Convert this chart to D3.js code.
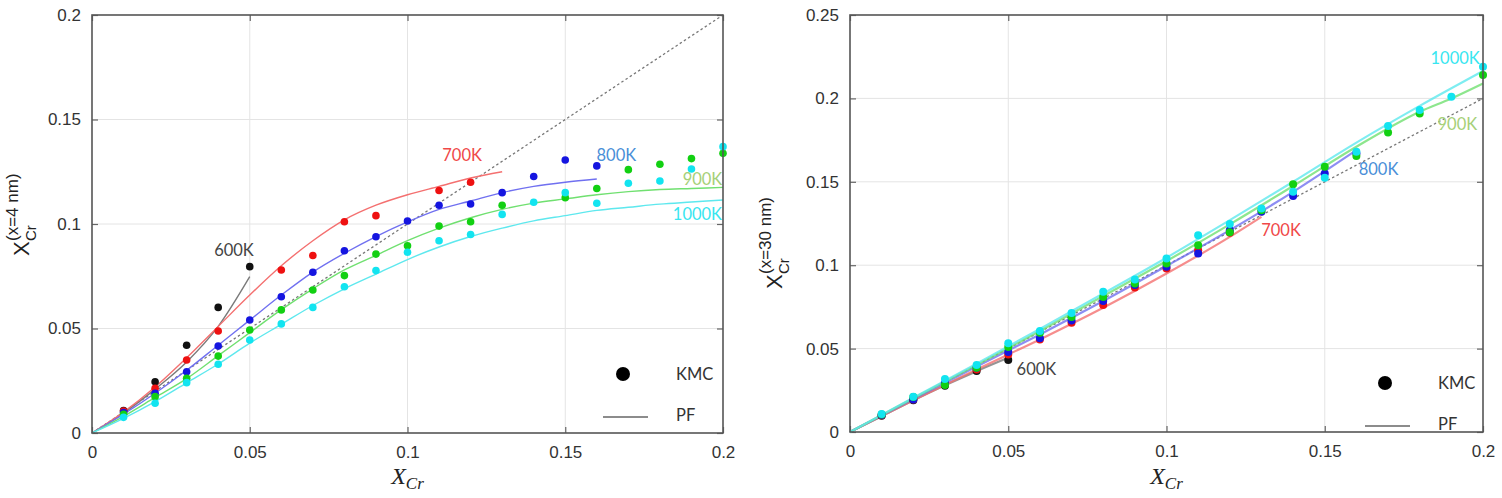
<!DOCTYPE html>
<html><head><meta charset="utf-8">
<script src="https://cdn.jsdelivr.net/npm/d3@7"></script>
<style>body{margin:0;background:#fff;} svg{display:block;}</style>
</head><body>
<svg id="c" width="1502" height="498"></svg>
<script>
// ---------- DATA ----------
const temps = ["600K","700K","800K","900K","1000K"];
const dotColors = ["#111111","#ee1111","#1515e0","#12d012","#12e4f0"];
const lineColors = ["#7a7a7a","#f47070","#7070f0","#70e070","#5ee8ee"];
const labelColors = ["#444444","#f04848","#4a8fd8","#a6d078","#38e6f0"];
const xTicks = [0,0.05,0.1,0.15,0.2];
const yTicksL = [0,0.05,0.1,0.15,0.2];
const yTicksR = [0,0.05,0.1,0.15,0.2,0.25];
const diag = [[0,0],[0.2,0.2]];

// Left panel (x = 4 nm): KMC points
const kmcL600 = [[0.01,0.0107],[0.02,0.0245],[0.03,0.042],[0.04,0.0601],[0.05,0.0796]];
const kmcL700 = [[0.01,0.0105],[0.02,0.0214],[0.03,0.0349],[0.04,0.0488],[0.06,0.078],[0.07,0.0849],[0.08,0.1011],[0.09,0.104],[0.11,0.116],[0.12,0.120]];
const kmcL800 = [[0.01,0.0098],[0.02,0.019],[0.03,0.0293],[0.04,0.0416],[0.05,0.0541],[0.06,0.0652],[0.07,0.0769],[0.08,0.0872],[0.09,0.0939],[0.10,0.1014],[0.11,0.109],[0.12,0.1096],[0.13,0.115],[0.14,0.1227],[0.15,0.1306],[0.16,0.1278]];
const kmcL900 = [[0.01,0.009],[0.02,0.0174],[0.03,0.0262],[0.04,0.0368],[0.05,0.0493],[0.06,0.0589],[0.07,0.0684],[0.08,0.0753],[0.09,0.0856],[0.10,0.0896],[0.11,0.099],[0.12,0.1011],[0.13,0.109],[0.15,0.1126],[0.16,0.117],[0.17,0.126],[0.18,0.1286],[0.19,0.1313],[0.20,0.1338]];
const kmcL1000 = [[0.01,0.0075],[0.02,0.0142],[0.03,0.0241],[0.04,0.0329],[0.05,0.0445],[0.06,0.0522],[0.07,0.0601],[0.08,0.070],[0.09,0.0777],[0.10,0.0865],[0.11,0.092],[0.12,0.095],[0.13,0.1046],[0.14,0.1104],[0.15,0.115],[0.16,0.1099],[0.17,0.1195],[0.18,0.1206],[0.19,0.1263],[0.20,0.137]];
// Left panel: PF curves
const pfL600 = [[0,0],[0.01,0.0095],[0.02,0.021],[0.03,0.034],[0.04,0.051],[0.05,0.0748]];
const pfL700 = [[0,0],[0.01,0.010],[0.02,0.022],[0.03,0.036],[0.04,0.051],[0.05,0.066],[0.06,0.080],[0.07,0.092],[0.08,0.102],[0.09,0.109],[0.10,0.114],[0.11,0.118],[0.12,0.122],[0.13,0.125]];
const pfL800 = [[0,0],[0.01,0.009],[0.02,0.019],[0.03,0.030],[0.04,0.042],[0.05,0.054],[0.06,0.066],[0.07,0.077],[0.08,0.086],[0.09,0.094],[0.10,0.101],[0.11,0.107],[0.12,0.111],[0.13,0.115],[0.14,0.118],[0.15,0.120],[0.16,0.1215]];
const pfL900 = [[0,0],[0.01,0.008],[0.02,0.017],[0.03,0.026],[0.04,0.037],[0.05,0.048],[0.06,0.059],[0.07,0.069],[0.08,0.078],[0.09,0.085],[0.10,0.092],[0.11,0.098],[0.12,0.103],[0.13,0.107],[0.14,0.110],[0.15,0.112],[0.16,0.114],[0.17,0.1155],[0.18,0.1165],[0.19,0.117],[0.20,0.1175]];
const pfL1000 = [[0,0],[0.01,0.007],[0.02,0.015],[0.03,0.024],[0.04,0.033],[0.05,0.043],[0.06,0.052],[0.07,0.061],[0.08,0.069],[0.09,0.076],[0.10,0.083],[0.11,0.089],[0.12,0.094],[0.13,0.098],[0.14,0.1015],[0.15,0.104],[0.16,0.1065],[0.17,0.108],[0.18,0.1095],[0.19,0.1105],[0.20,0.1115]];

// Right panel (x = 30 nm): KMC points
const kmcR600 = [[0.01,0.0098],[0.02,0.019],[0.03,0.0278],[0.04,0.0366],[0.05,0.0432]];
const kmcR700 = [[0.01,0.0100],[0.02,0.0195],[0.03,0.0285],[0.04,0.0375],[0.05,0.0465],[0.06,0.0555],[0.07,0.0655],[0.08,0.0761],[0.09,0.0867],[0.10,0.098],[0.11,0.109],[0.12,0.1195]];
const kmcR800 = [[0.01,0.0102],[0.02,0.0195],[0.03,0.0293],[0.04,0.0385],[0.05,0.048],[0.06,0.0562],[0.07,0.0668],[0.08,0.0785],[0.09,0.0881],[0.10,0.099],[0.11,0.107],[0.12,0.121],[0.13,0.132],[0.14,0.1415],[0.15,0.155],[0.16,0.167]];
const kmcR900 = [[0.01,0.0105],[0.02,0.021],[0.03,0.0282],[0.04,0.0385],[0.05,0.051],[0.06,0.0595],[0.07,0.069],[0.08,0.081],[0.09,0.089],[0.10,0.101],[0.11,0.112],[0.12,0.1197],[0.13,0.133],[0.14,0.1485],[0.15,0.159],[0.16,0.1655],[0.17,0.1795],[0.18,0.191],[0.20,0.214]];
const kmcR1000 = [[0.01,0.0108],[0.02,0.0212],[0.03,0.0318],[0.04,0.0402],[0.05,0.0532],[0.06,0.0605],[0.07,0.0713],[0.08,0.0841],[0.09,0.0915],[0.10,0.104],[0.11,0.118],[0.12,0.1247],[0.13,0.134],[0.14,0.144],[0.15,0.1525],[0.16,0.168],[0.17,0.1835],[0.18,0.193],[0.19,0.201],[0.20,0.219]];
// Right panel: PF curves
const pfR600 = [[0,0],[0.01,0.0095],[0.02,0.019],[0.03,0.028],[0.04,0.0365],[0.05,0.0445]];
const pfR700 = [[0,0],[0.02,0.019],[0.04,0.0375],[0.06,0.0555],[0.08,0.0745],[0.10,0.095],[0.12,0.117],[0.13,0.129]];
const pfR800 = [[0,0],[0.02,0.0198],[0.04,0.0392],[0.06,0.0585],[0.08,0.0785],[0.10,0.0995],[0.12,0.121],[0.14,0.144],[0.16,0.169]];
const pfR900 = [[0,0],[0.02,0.0202],[0.04,0.0402],[0.06,0.0605],[0.08,0.0815],[0.10,0.1025],[0.12,0.1245],[0.14,0.1475],[0.16,0.171],[0.18,0.192],[0.19,0.200],[0.20,0.209]];
const pfR1000 = [[0,0],[0.02,0.0205],[0.04,0.041],[0.06,0.0618],[0.08,0.083],[0.10,0.1045],[0.12,0.127],[0.14,0.150],[0.16,0.1735],[0.18,0.1955],[0.20,0.2164]];

// temperature label anchor positions (data coords, label centre)
const labelPosL = [[0.045,0.0876],[0.1173,0.133],[0.1662,0.133],[0.1935,0.1215],[0.1919,0.1048]];
const labelPosR = [[0.0589,0.0378],[0.1362,0.1211],[0.167,0.1577],[0.1919,0.1847],[0.1912,0.2242]];

// ---------- DRAW ----------
const svg = d3.select("#c");

function panel(o){
  const x = d3.scaleLinear().domain([0,0.2]).range([o.x0,o.x1]);
  const y = d3.scaleLinear().domain([0,o.ymax]).range([o.y1,o.y0]);
  const g = svg.append("g");
  // grid
  g.selectAll(".gx").data(xTicks.slice(1,-1)).join("line")
    .attr("x1",d=>x(d)).attr("x2",d=>x(d)).attr("y1",o.y0).attr("y2",o.y1)
    .attr("stroke","#e4e4e4").attr("stroke-width",1);
  g.selectAll(".gy").data(o.yTicks.slice(1,-1)).join("line")
    .attr("y1",d=>y(d)).attr("y2",d=>y(d)).attr("x1",o.x0).attr("x2",o.x1)
    .attr("stroke","#e4e4e4").attr("stroke-width",1);
  // axes (ticks inward, mirrored)
  const fmt = d=> d===0 ? "0" : String(+d.toFixed(2));
  const axB = g.append("g").attr("transform",`translate(0,${o.y1})`)
    .call(d3.axisBottom(x).tickValues(xTicks).tickFormat(fmt).tickSize(-6).tickPadding(13));
  const axT = g.append("g").attr("transform",`translate(0,${o.y0})`)
    .call(d3.axisTop(x).tickValues(xTicks).tickFormat("").tickSize(-6));
  const axL = g.append("g").attr("transform",`translate(${o.x0},0)`)
    .call(d3.axisLeft(y).tickValues(o.yTicks).tickFormat(fmt).tickSize(-6).tickPadding(11));
  const axR = g.append("g").attr("transform",`translate(${o.x1},0)`)
    .call(d3.axisRight(y).tickValues(o.yTicks).tickFormat("").tickSize(-6));
  [axB,axT,axL,axR].forEach(a=>{
    a.select(".domain").remove();
    a.selectAll(".tick line").attr("stroke","#666").attr("stroke-width",1.2);
    a.selectAll("text").attr("font-family","Liberation Sans, Arial, sans-serif").attr("font-size",17).attr("fill","#333");
  });
  // diagonal
  g.append("path").datum(diag).attr("d",d3.line().x(d=>x(d[0])).y(d=>y(d[1])))
    .attr("fill","none").attr("stroke","#777").attr("stroke-width",1.3).attr("stroke-dasharray","2.5,2.5");
  // lines
  const line = d3.line().x(d=>x(d[0])).y(d=>y(d[1])).curve(d3.curveMonotoneX);
  o.pf.forEach((s,i)=>{
    g.append("path").datum(s).attr("d",line).attr("fill","none")
      .attr("stroke",lineColors[i]).attr("stroke-width",o.lw).attr("stroke-opacity",o.lop);
  });
  // dots
  o.kmc.forEach((s,i)=>{
    g.selectAll(null).data(s).join("circle")
      .attr("cx",d=>x(d[0])).attr("cy",d=>y(d[1])).attr("r",o.r).attr("fill",dotColors[i]);
  });
  // temperature labels
  temps.forEach((t,i)=>{
    g.append("text").attr("x",x(o.lab[i][0])).attr("y",y(o.lab[i][1]))
      .attr("font-family","Lato, Open Sans, sans-serif").attr("font-size",16.5)
      .attr("fill",labelColors[i]).attr("text-anchor","middle").attr("dominant-baseline","central").text(t);
  });
  // frame
  g.append("rect").attr("x",o.x0).attr("y",o.y0).attr("width",o.x1-o.x0).attr("height",o.y1-o.y0)
    .attr("fill","none").attr("stroke","#555").attr("stroke-width",1.6);
  // legend
  g.append("circle").attr("cx",o.legX).attr("cy",o.legY).attr("r",7).attr("fill","#000");
  g.append("line").attr("x1",o.legX-20).attr("x2",o.legX+25).attr("y1",o.legY+43).attr("y2",o.legY+43)
    .attr("stroke","#666").attr("stroke-width",1.6);
  [["KMC",0],["PF",41]].forEach(([t,dy])=>{
    g.append("text").attr("x",o.legX+53).attr("y",o.legY+dy).attr("dominant-baseline","central")
      .attr("font-family","Lato, Open Sans, sans-serif").attr("font-size",16.5).attr("fill","#333").text(t);
  });
  // x title
  const xt = g.append("text").attr("x",(o.x0+o.x1)/2).attr("y",484).attr("text-anchor","middle")
    .attr("font-family","Liberation Serif, DejaVu Serif, serif").attr("font-style","italic").attr("fill","#222");
  xt.append("tspan").attr("font-size",24).text("X");
  xt.append("tspan").attr("font-size",17).attr("dy",5).text("Cr");
  // y title
  const yt = g.append("g").attr("transform",`translate(${o.ytx},${o.yty}) rotate(-90)`)
    .attr("font-family","Liberation Sans, Arial, sans-serif").attr("fill","#222");
  yt.append("text").attr("x",0).attr("y",0).attr("font-size",22).text("X");
  yt.append("text").attr("x",15).attr("y",7).attr("font-size",15).text("Cr");
  yt.append("text").attr("x",15).attr("y",-11).attr("font-size",17).text(o.sup);
}

panel({x0:92,x1:723,y0:15,y1:433,ymax:0.2,yTicks:yTicksL,
  kmc:[kmcL600,kmcL700,kmcL800,kmcL900,kmcL1000],
  pf:[pfL600,pfL700,pfL800,pfL900,pfL1000],lab:labelPosL,lw:1.4,lop:1,r:3.8,
  legX:623,legY:374,ytx:29,yty:256,sup:"(x=4 nm)"});
panel({x0:850,x1:1483,y0:15,y1:432,ymax:0.25,yTicks:yTicksR,
  kmc:[kmcR600,kmcR700,kmcR800,kmcR900,kmcR1000],
  pf:[pfR600,pfR700,pfR800,pfR900,pfR1000],lab:labelPosR,lw:2.2,lop:0.8,r:4,
  legX:1385,legY:383,ytx:782,yty:289,sup:"(x=30 nm)"});
</script>
</body></html>
